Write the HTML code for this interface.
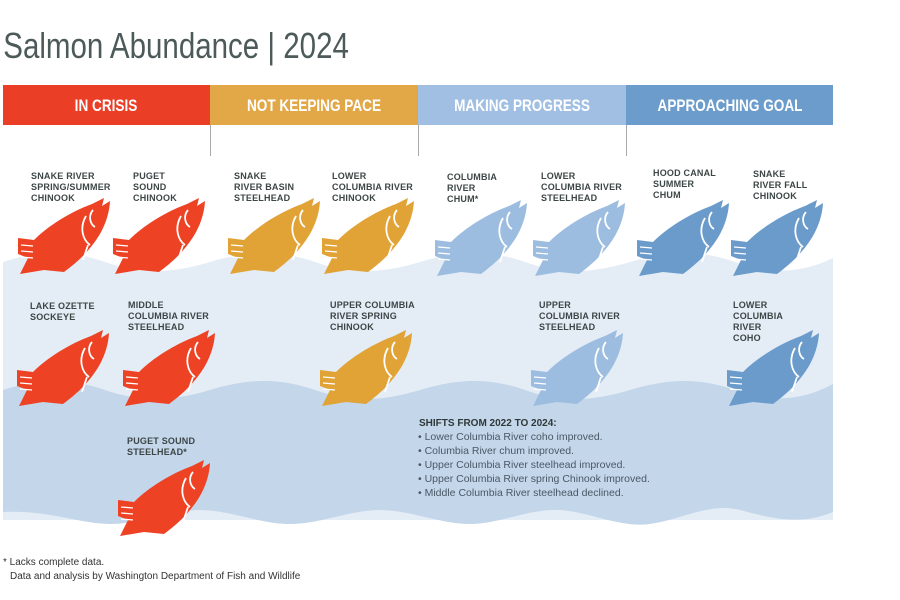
<!DOCTYPE html>
<html><head><meta charset="utf-8"><style>
body{margin:0;background:#fff;}
svg{display:block}
.t{font-family:"Liberation Sans",sans-serif;font-weight:bold;font-size:9px;fill:#3d4646;letter-spacing:0.2px}
</style></head><body>
<svg width="900" height="600" viewBox="0 0 900 600" xmlns="http://www.w3.org/2000/svg">
<defs>
<g id="f">
<path d="M0,40 L16,42 C30,28 52,14 74,6 L86,0 L84,8 L92,3 C91,20 84,36 72,50 C64,60 54,68 46,74 L26,72 L2,76 L10,60 L0,56 Z"/>
<path d="M75,12 C70,18 72,26 77,29 M68,18 C61,30 65,42 72,47 M70,47 L65,62" stroke="#fff" stroke-width="1.8" fill="none"/>
<path d="M3,47 L15,48 M3,53 L15,54 M3,59 L15,60" stroke="#fff" stroke-width="1.3"/>
</g>
</defs>
<text x="4" y="58" font-family="Liberation Sans, sans-serif" fill="#4d5a5a" transform="scale(0.82,1)" style="font-size:36px">Salmon Abundance | 2024</text>
<rect x="3" y="85" width="207" height="40" fill="#ea3e27"/>
<rect x="210" y="85" width="208" height="40" fill="#e2a847"/>
<rect x="418" y="85" width="208" height="40" fill="#a0bfe2"/>
<rect x="626" y="85" width="207" height="40" fill="#6b9ccb"/>
<g text-anchor="middle" font-family="Liberation Sans, sans-serif" font-weight="bold" font-size="17" fill="#fff">
<text transform="translate(106,111) scale(0.8,1)">IN CRISIS</text>
<text transform="translate(314,111) scale(0.8,1)">NOT KEEPING PACE</text>
<text transform="translate(522,111) scale(0.8,1)">MAKING PROGRESS</text>
<text transform="translate(730,111) scale(0.8,1)">APPROACHING GOAL</text>
</g>
<g stroke="#aaa" stroke-width="1"><line x1="210.5" y1="125" x2="210.5" y2="156"/><line x1="418.5" y1="125" x2="418.5" y2="156"/><line x1="626.5" y1="125" x2="626.5" y2="156"/></g>
<path d="M3,262 C40,250 70,250 105,262 S170,274 210,262 S280,250 315,262 S380,274 420,262 S490,250 525,262 S590,274 630,262 S700,250 735,262 S800,274 833,258 L833,520 L3,520 Z" fill="#e4ecf6"/>
<path d="M3,390 C40,378 70,378 105,390 S170,402 210,390 S280,378 315,390 S380,402 420,390 S490,378 525,390 S590,402 630,390 S700,378 735,390 S800,402 833,384 L833,512 C800,526 770,518 740,510 S680,520 650,524 S590,512 560,510 S500,524 470,524 S410,510 380,510 S320,524 290,524 S230,510 200,510 S140,524 110,524 S50,510 3,512 Z" fill="#c3d6ea"/>
<g fill="#ee4224">
<use href="#f" x="18" y="198"/><use href="#f" x="113" y="198"/>
<use href="#f" x="17" y="330"/><use href="#f" x="123" y="330"/>
<use href="#f" x="118" y="460"/>
</g>
<g fill="#e1a336"><use href="#f" x="228" y="198"/><use href="#f" x="322" y="198"/><use href="#f" x="320" y="330"/></g>
<g fill="#9dbde0"><use href="#f" x="435" y="200"/><use href="#f" x="533" y="200"/><use href="#f" x="531" y="330"/></g>
<g fill="#6a9bcb"><use href="#f" x="637" y="200"/><use href="#f" x="731" y="200"/><use href="#f" x="727" y="330"/></g>
<g class="t">
<text x="31" y="179">SNAKE RIVER<tspan x="31" dy="11">SPRING/SUMMER</tspan><tspan x="31" dy="11">CHINOOK</tspan></text>
<text x="133" y="179">PUGET<tspan x="133" dy="11">SOUND</tspan><tspan x="133" dy="11">CHINOOK</tspan></text>
<text x="234" y="179">SNAKE<tspan x="234" dy="11">RIVER BASIN</tspan><tspan x="234" dy="11">STEELHEAD</tspan></text>
<text x="332" y="179">LOWER<tspan x="332" dy="11">COLUMBIA RIVER</tspan><tspan x="332" dy="11">CHINOOK</tspan></text>
<text x="447" y="180">COLUMBIA<tspan x="447" dy="11">RIVER</tspan><tspan x="447" dy="11">CHUM*</tspan></text>
<text x="541" y="179">LOWER<tspan x="541" dy="11">COLUMBIA RIVER</tspan><tspan x="541" dy="11">STEELHEAD</tspan></text>
<text x="653" y="176">HOOD CANAL<tspan x="653" dy="11">SUMMER</tspan><tspan x="653" dy="11">CHUM</tspan></text>
<text x="753" y="177">SNAKE<tspan x="753" dy="11">RIVER FALL</tspan><tspan x="753" dy="11">CHINOOK</tspan></text>
<text x="30" y="309">LAKE OZETTE<tspan x="30" dy="11">SOCKEYE</tspan></text>
<text x="128" y="308">MIDDLE<tspan x="128" dy="11">COLUMBIA RIVER</tspan><tspan x="128" dy="11">STEELHEAD</tspan></text>
<text x="330" y="308">UPPER COLUMBIA<tspan x="330" dy="11">RIVER SPRING</tspan><tspan x="330" dy="11">CHINOOK</tspan></text>
<text x="539" y="308">UPPER<tspan x="539" dy="11">COLUMBIA RIVER</tspan><tspan x="539" dy="11">STEELHEAD</tspan></text>
<text x="733" y="308">LOWER<tspan x="733" dy="11">COLUMBIA</tspan><tspan x="733" dy="11">RIVER</tspan><tspan x="733" dy="11">COHO</tspan></text>
<text x="127" y="444">PUGET SOUND<tspan x="127" dy="11">STEELHEAD*</tspan></text>
</g>
<text x="419" y="426" font-family="Liberation Sans, sans-serif" font-weight="bold" font-size="10" fill="#2f3838">SHIFTS FROM 2022 TO 2024:</text>
<g font-family="Liberation Sans, sans-serif" font-size="10.5" fill="#4a5866">
<text x="418" y="440">• Lower Columbia River coho improved.</text>
<text x="418" y="454">• Columbia River chum improved.</text>
<text x="418" y="468">• Upper Columbia River steelhead improved.</text>
<text x="418" y="482">• Upper Columbia River spring Chinook improved.</text>
<text x="418" y="496">• Middle Columbia River steelhead declined.</text>
</g>
<g font-family="Liberation Sans, sans-serif" font-size="10" fill="#333">
<text x="3" y="565">* Lacks complete data.</text>
<text x="10" y="579">Data and analysis by Washington Department of Fish and Wildlife</text>
</g>
</svg>
</body></html>
